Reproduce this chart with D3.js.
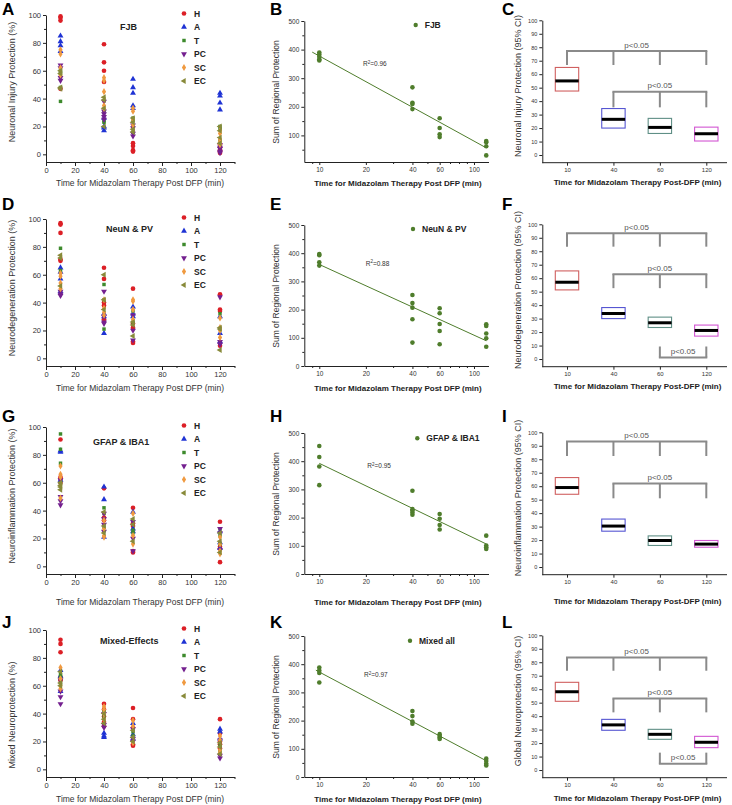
<!DOCTYPE html>
<html><head><meta charset="utf-8">
<script src="https://cdn.jsdelivr.net/npm/d3@7"></script>
<style>
body{margin:0;background:#fff}
svg{display:block}
text{font-family:"Liberation Sans",Arial,sans-serif}
</style>
</head><body>
<svg id="fig" width="732" height="805"></svg>
<script>
// ---------------- DATA ----------------
const times = [10, 40, 60, 120];
const timeLabels = ["10", "40", "60", "120"];
const regions = ["H", "A", "T", "PC", "SC", "EC"];

// Panel A: FJB (per region: values at 10, 40, 60, 120 min)
const fjbH  = [[99,98,96,47],[79,66,60,52],[8,6,3,2],[7,5,3,2,1]];
const fjbA  = [[85,81,78,74],[20,17,19,26],[54,48,44,35,33],[44,42,37,32]];
const fjbT  = [[38,48,58,60],[24,23,30],[26,24,20,16],[20,18,10,6]];
const fjbPC = [[64,62,55,53],[38,31,29,27,25],[21,19,15,13],[7,5,4,2,1]];
const fjbSC = [[75,72,62,57],[55,53,45,35,33],[33,31,25,21,18],[17,15,11,9,7]];
const fjbEC = [[48,58,60,47],[41,39,33,20],[26,23,18,16],[20,17,12,8]];
// Panel D: NeuN & PV
const neuH  = [[97,96,90,71,70],[65,57,40,38,28],[50,25,22,12,11],[46,35,34,11,9]];
const neuA  = [[65,62,57,48],[18,30,32],[37,32,30],[30,18,12]];
const neuT  = [[79,63],[53,42,21],[34,26],[32]];
const neuPC = [[48,46,45],[48,30,26,25],[31,20,13],[44,12,10]];
const neuSC = [[61,59,54,50],[42,36,33,31],[42,41,35,28],[29,22,20,15]];
const neuEC = [[74,72,52],[60,42,35],[26,24,16],[22,21,6]];
// Panel G: GFAP & IBA1
const gfaH  = [[91,64,63,60],[56,35,33],[42,31,29,11,10],[32,3,14]];
const gfaA  = [[83,82,62],[57,48,21],[39,27,25],[25,17,13]];
const gfaT  = [[95,84,74,60],[42,38,28],[24,26],[27,22,16]];
const gfaPC = [[50,47,44,62],[38,34,30,25],[32,20,11],[27,24,12]];
const gfaSC = [[72,66,64,49],[33,27,22,21],[38,22,16],[21,16,11,9]];
const gfaEC = [[60,57,55,58],[39,29,24],[34,30,18],[24,18,10]];
// Panel J: Mixed-Effects
const mixH  = [[93,90,84,66,64],[47,43,38,34,31],[44,36,30,18,17],[36,26,20,18,15]];
const mixA  = [[71,67,56],[26,24,23],[33,25,22],[29,27,22]];
const mixT  = [[68,66,62],[42,38],[27,24],[17,13,11]];
const mixPC = [[56,52,47,64],[32,30,40],[29,22,20],[21,10,8]];
const mixSC = [[73,65,60,58],[45,43,40,36],[35,31,19],[24,21,14,12]];
const mixEC = [[70,62,60],[40,36,33],[28,23,20],[19,16,11]];

// Sum of regional protection (panels B, E, H, K)
const sumFJB = [[390,383,375,366,362],[268,214,210,192],[160,126,104,94],[80,76,62,30]];
const sumNeu = [[397,393,368,356],[252,223,207,166,83],[205,187,149,124,77],[148,142,115,98,68]];
const sumGfa = [[454,415,381,315],[295,230,225,218,210],[213,196,174,158],[136,101,95,89]];
const sumMix = [[388,378,369,335],[234,216,197,189],[152,145,140,135],[65,57,47,41]];
const r2Labels = ["0.96", "0.88", "0.95", "0.97"];
const sumLegends = ["FJB", "NeuN & PV", "GFAP & IBA1", "Mixed all"];

// 95% CI boxes [low, median, high] (panels C, F, I, L)
const ciFJB = [[47.5,55,65],[20,26.5,34.5],[16,20.5,27.2],[10.4,15.8,20.7]];
const ciNeu = [[51.3,57,65.4],[30,33.8,38.2],[23.4,26.9,31.1],[17,21.2,25.2]];
const ciGfa = [[54,59,66.4],[26.6,30.4,35.6],[16,19.7,23.1],[14.7,17,19.7]];
const ciMix = [[51,58.1,65.1],[29.5,33.5,37.6],[22.8,26.5,30.2],[16.6,20.6,25]];
// significance brackets: groups, bar level, drop end level
const brFJB = [{cats:["10","40","60","120"], bar:77.2, end:66.8},{cats:["40","60","120"], bar:47, end:35.4}];
const brNeu = [{cats:["10","40","60","120"], bar:93.3, end:83.4},{cats:["40","60","120"], bar:63, end:52.6},{cats:["60","120"], bar:1.2, end:9.3}];
const brGfa = [{cats:["10","40","60","120"], bar:93.1, end:82.4},{cats:["40","60","120"], bar:62, end:51}];
const brMix = [{cats:["10","40","60","120"], bar:83.5, end:73.7},{cats:["40","60","120"], bar:53, end:42.8},{cats:["60","120"], bar:4.7, end:12.9}];
const pLabel = "p<0.05";

// ---------------- STYLE / LAYOUT ----------------
const regionColors = ["#dc1f26","#1f33d4","#3d8a2c","#74208f","#f09a40","#888a3a"];
const shapeTypes = [d3.symbolCircle, d3.symbolTriangle, d3.symbolSquare, d3.symbolTriangle, d3.symbolDiamond, d3.symbolTriangle];
const shapeRot = [0, 0, 0, 180, 0, -90];
const shapeSize = [17, 15, 12, 15, 15, 15];
const boxColors = ["#d06060","#5656d2","#5f8f86","#d256d2"];
const green = "#4f7d2c";
const rowY = [0, 204, 412, 615];
const letterY = [15, 210, 422, 628];
const xTitleY = [186, 186.5, 193, 187];
const FONT = "Liberation Sans, Arial, sans-serif";

const scatterPanels = [
  {letter:"A", title:"FJB", tx:120, ty:30, yTitle:"Neuronal Injury Protection (%)", yc:82, data:[fjbH,fjbA,fjbT,fjbPC,fjbSC,fjbEC]},
  {letter:"D", title:"NeuN & PV", tx:106, ty:28, yTitle:"Neurodegeneration Protection (%)", yc:84, data:[neuH,neuA,neuT,neuPC,neuSC,neuEC]},
  {letter:"G", title:"GFAP & IBA1", tx:93, ty:33, yTitle:"Neuroinflammation Protection (%)", yc:84, data:[gfaH,gfaA,gfaT,gfaPC,gfaSC,gfaEC]},
  {letter:"J", title:"Mixed-Effects", tx:100, ty:29, yTitle:"Mixed Neuroprotection (%)", yc:100, data:[mixH,mixA,mixT,mixPC,mixSC,mixEC]}
];
const regPanels = [
  {letter:"B", data:sumFJB, yMin:7, fitStart:9, lx:415.7, ly:25, rx:363, ry:66},
  {letter:"E", data:sumNeu, yMin:0, fitStart:10.2, lx:413, ly:25, rx:365.7, ry:61.5},
  {letter:"H", data:sumGfa, yMin:0, fitStart:10, lx:417.3, ly:26.3, rx:367.3, ry:56},
  {letter:"K", data:sumMix, yMin:0, fitStart:9.5, lx:410, ly:25.7, rx:364, ry:62}
];
const boxPanels = [
  {letter:"C", yTitle:"Neuronal Injury Protection (95% CI)", boxes:ciFJB, brackets:brFJB},
  {letter:"F", yTitle:"Neurodegeneration Protection (95% CI)", boxes:ciNeu, brackets:brNeu},
  {letter:"I", yTitle:"Neuroinflammation Protection (95% CI)", boxes:ciGfa, brackets:brGfa},
  {letter:"L", yTitle:"Global Neuroprotection (95% CI)", boxes:ciMix, brackets:brMix}
];

const svg = d3.select("#fig");

function styleAxis(sel, fs){
  sel.attr("font-size", fs).attr("font-family", FONT);
  sel.selectAll("path.domain").attr("stroke", "#222");
  sel.selectAll(".tick line").attr("stroke", "#222");
  sel.selectAll(".tick text").attr("fill", "#333");
}
function addText(g, x, y, str, fs, opts={}){
  const t = g.append("text").attr("x", x).attr("y", y).attr("font-size", fs)
    .attr("fill", opts.fill || "#222").attr("text-anchor", opts.anchor || "start")
    .attr("font-weight", opts.bold ? "bold" : "normal").text(str);
  if (opts.rotate) t.attr("transform", `rotate(-90,${x},${y})`);
  return t;
}

// ---------------- SCATTER PANELS ----------------
function drawScatter(p, r){
  const g = svg.append("g").attr("transform", `translate(0,${rowY[r]})`);
  const x = d3.scaleLinear().domain([0, 130]).range([46, 234.5]);
  const y = d3.scaleLinear().domain([-5.5, 100]).range([162, 15]);
  g.append("g").attr("transform", "translate(0,162)")
    .call(d3.axisBottom(x).tickValues(d3.range(0, 121, 20)).tickSize(4).tickSizeOuter(0).tickPadding(2))
    .call(styleAxis, 7.5);
  g.append("g").attr("transform", "translate(0,162)")
    .call(d3.axisBottom(x).tickValues(d3.range(10, 131, 20)).tickSize(2).tickFormat(""))
    .call(s => s.select(".domain").remove()).call(styleAxis, 7.5);
  g.append("g").attr("transform", "translate(46,0)")
    .call(d3.axisLeft(y).tickValues(d3.range(0, 101, 20)).tickSize(3).tickSizeOuter(0).tickPadding(2))
    .call(styleAxis, 7.5);
  g.append("g").attr("transform", "translate(46,0)")
    .call(d3.axisLeft(y).tickValues(d3.range(10, 100, 20)).tickSize(2).tickFormat(""))
    .call(s => s.select(".domain").remove()).call(styleAxis, 7.5);

  p.data.forEach((series, ri) => {
    const pts = [];
    series.forEach((vals, ti) => vals.forEach(v => pts.push({t: times[ti], v})));
    g.append("g").selectAll("path").data(pts).join("path")
      .attr("d", d3.symbol().type(shapeTypes[ri]).size(shapeSize[ri]))
      .attr("transform", d => `translate(${x(d.t)},${y(d.v)}) rotate(${shapeRot[ri]})`)
      .attr("fill", regionColors[ri]);
  });
  // legend
  regions.forEach((name, ri) => {
    const ly = 13.5 + ri * 13.5;
    g.append("path").attr("d", d3.symbol().type(shapeTypes[ri]).size(shapeSize[ri])())
      .attr("transform", `translate(184,${ly}) rotate(${shapeRot[ri]})`).attr("fill", regionColors[ri]);
    addText(g, 194, ly + 3, name, 8.5, {bold: true});
  });
  addText(g, p.tx, p.ty, p.title, 9, {bold: true});
  addText(g, 15, p.yc, p.yTitle, 9, {anchor: "middle", rotate: true, fill: "#333"});
  addText(g, 140, xTitleY[r], "Time for Midazolam Therapy Post DFP (min)", 8.5, {anchor: "middle", fill: "#333"});
  addText(svg, 2, letterY[r], p.letter, 17, {bold: true, fill: "#000"});
}

// ---------------- REGRESSION PANELS ----------------
function fitLog(series){
  const pts = [];
  series.forEach((vals, i) => vals.forEach(v => pts.push([Math.log10(times[i]), v])));
  const mx = d3.mean(pts, d => d[0]), my = d3.mean(pts, d => d[1]);
  const b = d3.sum(pts, d => (d[0] - mx) * (d[1] - my)) / d3.sum(pts, d => (d[0] - mx) ** 2);
  return t => my + b * (Math.log10(t) - mx);
}
function drawReg(p, r){
  const g = svg.append("g").attr("transform", `translate(0,${rowY[r]})`);
  const cid = "clip" + p.letter;
  g.append("clipPath").attr("id", cid).append("rect").attr("x", 240).attr("y", 0).attr("width", 249).attr("height", 200);
  const c = g.append("g").attr("clip-path", `url(#${cid})`);
  const x = d3.scaleLog().domain([8, 140]).range([304.3, 496.6]);
  const y = d3.scaleLinear().domain([p.yMin, 500]).range([162, 21]);
  c.append("g").attr("transform", "translate(0,162)")
    .call(d3.axisBottom(x).tickValues([10, 20, 40, 60, 100]).tickFormat(d3.format("d")).tickSize(3).tickSizeOuter(0).tickPadding(2))
    .call(styleAxis, 6.5);
  c.append("g").attr("transform", "translate(0,162)")
    .call(d3.axisBottom(x).tickValues([9, 30, 50, 70, 80, 90]).tickSize(2).tickFormat(""))
    .call(s => s.select(".domain").remove()).call(styleAxis, 6.5);
  const majors = d3.range(0, 501, 100).filter(v => v >= p.yMin);
  const minors = d3.range(50, 500, 100).filter(v => v >= p.yMin);
  g.append("g").attr("transform", "translate(304.3,0)")
    .call(d3.axisLeft(y).tickValues(majors).tickSize(3).tickSizeOuter(0).tickPadding(2))
    .call(styleAxis, 6.5);
  g.append("g").attr("transform", "translate(304.3,0)")
    .call(d3.axisLeft(y).tickValues(minors).tickSize(2).tickFormat(""))
    .call(s => s.select(".domain").remove()).call(styleAxis, 6.5);

  const f = fitLog(p.data);
  const lineTs = [p.fitStart, 120];
  c.append("path").attr("d", d3.line().x(t => x(t)).y(t => y(f(t)))(lineTs))
    .attr("stroke", green).attr("stroke-width", 1).attr("fill", "none");
  const pts = [];
  p.data.forEach((vals, ti) => vals.forEach(v => pts.push({t: times[ti], v})));
  c.append("g").selectAll("circle").data(pts).join("circle")
    .attr("cx", d => x(d.t)).attr("cy", d => y(d.v)).attr("r", 2.3).attr("fill", green);

  g.append("circle").attr("cx", p.lx).attr("cy", p.ly).attr("r", 2.2).attr("fill", green);
  addText(g, p.lx + 9, p.ly + 3, sumLegends[r], 8.5, {bold: true});
  const rt = addText(g, p.rx, p.ry, "R", 6.5, {fill: "#333"});
  rt.append("tspan").attr("font-size", 4.5).attr("dy", -2.5).text("2");
  rt.append("tspan").attr("dy", 2.5).text("=" + r2Labels[r]);

  addText(g, 279, 92, "Sum of Regional Protection", 8.5, {anchor: "middle", rotate: true, fill: "#333"});
  addText(g, 398, xTitleY[r], "Time for Midazolam Therapy Post DFP (min)", 8, {anchor: "middle", bold: true});
  addText(svg, 270, letterY[r], p.letter, 17, {bold: true, fill: "#000"});
}

// ---------------- BOX (CI) PANELS ----------------
function drawBox(p, r){
  const g = svg.append("g").attr("transform", `translate(0,${rowY[r]})`);
  const x = d3.scalePoint().domain(timeLabels).range([567, 706.3]);
  const y = d3.scaleLinear().domain([-5.7, 100]).range([162.7, 20.3]);
  g.append("line").attr("x1", 542.3).attr("x2", 727).attr("y1", 162.7).attr("y2", 162.7).attr("stroke", "#222");
  g.append("g").attr("transform", "translate(0,162.7)")
    .call(d3.axisBottom(x).tickSize(3).tickSizeOuter(0).tickPadding(2))
    .call(s => s.select(".domain").remove()).call(styleAxis, 6);
  g.append("g").attr("transform", "translate(542.3,0)")
    .call(d3.axisLeft(y).tickValues(d3.range(0, 101, 10)).tickSize(3).tickSizeOuter(0).tickPadding(2))
    .call(styleAxis, 5.5);

  const bw = 23.4;
  p.boxes.forEach((b, i) => {
    const cx = x(timeLabels[i]);
    g.append("rect").attr("x", cx - bw / 2).attr("width", bw)
      .attr("y", y(b[2])).attr("height", y(b[0]) - y(b[2]))
      .attr("fill", "#fff").attr("stroke", boxColors[i]).attr("stroke-width", 1.1);
    g.append("line").attr("x1", cx - bw / 2).attr("x2", cx + bw / 2)
      .attr("y1", y(b[1])).attr("y2", y(b[1])).attr("stroke", "#000").attr("stroke-width", 3);
  });
  p.brackets.forEach(br => {
    const xs = br.cats.map(cat => x(cat));
    const bg = g.append("g").attr("stroke", "#8a8a8a").attr("stroke-width", 2).attr("fill", "none");
    bg.append("line").attr("x1", xs[0] - 1).attr("x2", xs[xs.length - 1] + 1)
      .attr("y1", y(br.bar)).attr("y2", y(br.bar));
    xs.forEach(xx => bg.append("line").attr("x1", xx).attr("x2", xx).attr("y1", y(br.bar)).attr("y2", y(br.end)));
    addText(g, (xs[0] + xs[xs.length - 1]) / 2, y(br.bar) - 3.5, pLabel, 8, {anchor: "middle", fill: "#555"});
  });

  addText(g, 521, 86, p.yTitle, 9, {anchor: "middle", rotate: true, fill: "#333"});
  addText(g, 637.5, xTitleY[r] - 1.5, "Time for Midazolam Therapy Post-DFP (min)", 8, {anchor: "middle", bold: true});
  addText(svg, 502, letterY[r], p.letter, 17, {bold: true, fill: "#000"});
}

scatterPanels.forEach((p, r) => drawScatter(p, r));
regPanels.forEach((p, r) => drawReg(p, r));
boxPanels.forEach((p, r) => drawBox(p, r));
</script>
</body></html>
